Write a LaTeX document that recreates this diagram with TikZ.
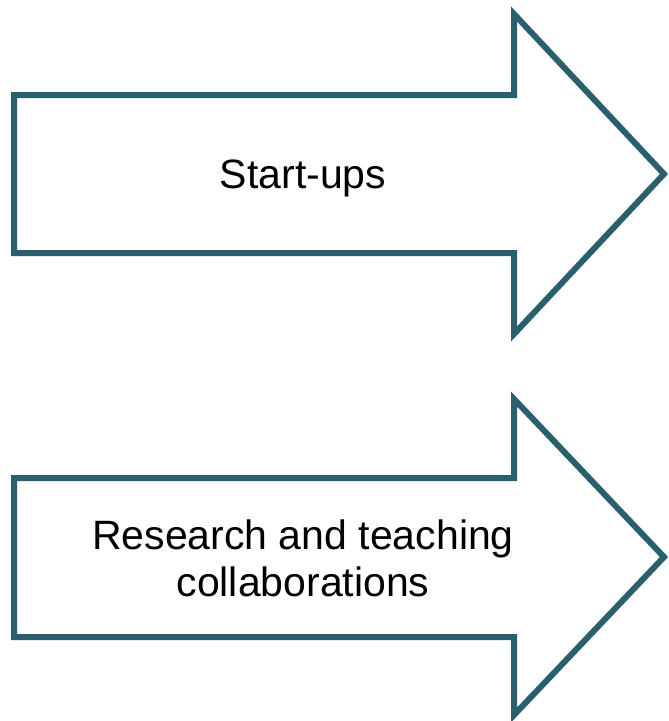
\documentclass[tikz,border=0pt]{standalone}
\usepackage{fontspec}
\setmainfont{Liberation Sans}
\definecolor{arrowteal}{RGB}{42,95,110}
\tikzset{
    bigarrow/.style={draw=arrowteal, line width=6pt, line join=miter, fill=white},
    arrowlabel/.style={align=center, font=\fontsize{41}{47}\selectfont}
}
\begin{document}
\begin{tikzpicture}[x=1pt, y=-1pt]
        \useasboundingbox (0,0) rectangle (669,721);

        % upper arrow
        \draw [bigarrow] (14,95) -- (514,95) -- (514,14) -- (664,174)
            -- (514,334) -- (514,253) -- (14,253) -- cycle;
        % lower arrow
        \draw [bigarrow] (14,478) -- (514,478) -- (514,399) -- (664,557)
            -- (514,715) -- (514,637) -- (14,637) -- cycle;

        \begin{scope}[every node/.style={arrowlabel}]
            \node (startups) at (303,178) {Start-ups};
            \node (collab) at (303,558) {Research and teaching\\collaborations};
        \end{scope}
        \end{tikzpicture}
\end{document}
